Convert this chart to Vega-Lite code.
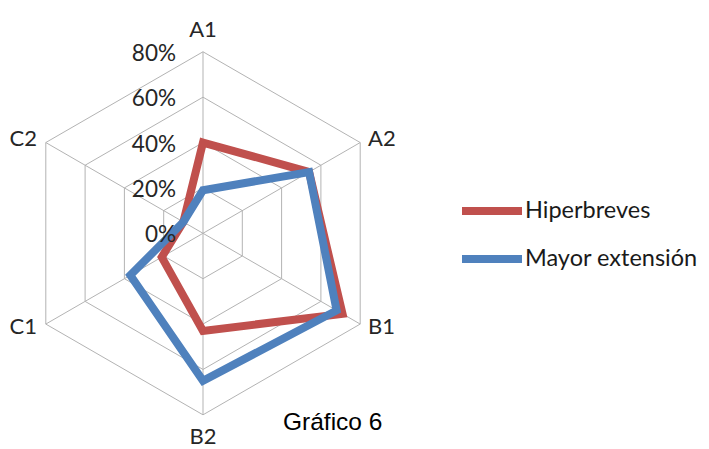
{
  "$schema": "https://vega.github.io/schema/vega-lite/v6.json",
  "width": 709,
  "height": 449,
  "padding": 0,
  "autosize": {"type": "none"},
  "background": "white",
  "config": {"view": {"stroke": null}},
  "title": {
    "text": "Gráfico 6",
    "orient": "bottom",
    "anchor": "start",
    "frame": "group",
    "offset": 0,
    "dx": 283,
    "dy": -19,
    "baseline": "alphabetic",
    "font": "Liberation Sans",
    "fontSize": 24.5,
    "fontWeight": "normal",
    "color": "#000000"
  },
  "datasets": {
    "series": [
      {"axis": "A1", "serie": "Hiperbreves", "value": 0.40},
      {"axis": "A2", "serie": "Hiperbreves", "value": 0.54},
      {"axis": "B1", "serie": "Hiperbreves", "value": 0.71},
      {"axis": "B2", "serie": "Hiperbreves", "value": 0.43},
      {"axis": "C1", "serie": "Hiperbreves", "value": 0.21},
      {"axis": "C2", "serie": "Hiperbreves", "value": 0.10},
      {"axis": "A1", "serie": "Mayor extensión", "value": 0.19},
      {"axis": "A2", "serie": "Mayor extensión", "value": 0.54},
      {"axis": "B1", "serie": "Mayor extensión", "value": 0.68},
      {"axis": "B2", "serie": "Mayor extensión", "value": 0.65},
      {"axis": "C1", "serie": "Mayor extensión", "value": 0.37},
      {"axis": "C2", "serie": "Mayor extensión", "value": 0.10}
    ],
    "grid": [
      {"axis": "A1", "value": 0.2}, {"axis": "A2", "value": 0.2}, {"axis": "B1", "value": 0.2},
      {"axis": "B2", "value": 0.2}, {"axis": "C1", "value": 0.2}, {"axis": "C2", "value": 0.2},
      {"axis": "A1", "value": 0.4}, {"axis": "A2", "value": 0.4}, {"axis": "B1", "value": 0.4},
      {"axis": "B2", "value": 0.4}, {"axis": "C1", "value": 0.4}, {"axis": "C2", "value": 0.4},
      {"axis": "A1", "value": 0.6}, {"axis": "A2", "value": 0.6}, {"axis": "B1", "value": 0.6},
      {"axis": "B2", "value": 0.6}, {"axis": "C1", "value": 0.6}, {"axis": "C2", "value": 0.6},
      {"axis": "A1", "value": 0.8}, {"axis": "A2", "value": 0.8}, {"axis": "B1", "value": 0.8},
      {"axis": "B2", "value": 0.8}, {"axis": "C1", "value": 0.8}, {"axis": "C2", "value": 0.8}
    ],
    "axes": [
      {"axis": "A1", "value": 0.8}, {"axis": "A2", "value": 0.8}, {"axis": "B1", "value": 0.8},
      {"axis": "B2", "value": 0.8}, {"axis": "C1", "value": 0.8}, {"axis": "C2", "value": 0.8}
    ],
    "ticks": [
      {"axis": "A1", "value": 0.0, "label": "0%"},
      {"axis": "A1", "value": 0.2, "label": "20%"},
      {"axis": "A1", "value": 0.4, "label": "40%"},
      {"axis": "A1", "value": 0.6, "label": "60%"},
      {"axis": "A1", "value": 0.8, "label": "80%"}
    ]
  },
  "layer": [
    {
      "data": {"name": "grid"},
      "transform": [
        {"calculate": "indexof(['A1','A2','B1','B2','C1','C2'], datum.axis) * PI / 3", "as": "ang"},
        {"calculate": "datum.value * sin(datum.ang)", "as": "px"},
        {"calculate": "datum.value * cos(datum.ang)", "as": "py"}
      ],
      "mark": {"type": "line", "interpolate": "linear-closed", "stroke": "#B3B3B3", "strokeWidth": 1},
      "encoding": {
        "x": {"field": "px", "type": "quantitative", "scale": {"domain": [-0.8947, 2.2301], "nice": false, "zero": false}, "axis": null},
        "y": {"field": "py", "type": "quantitative", "scale": {"domain": [-0.9506, 1.0282], "nice": false, "zero": false}, "axis": null},
        "detail": {"field": "value", "type": "nominal"},
        "order": {"field": "ang", "type": "quantitative"}
      }
    },
    {
      "data": {"name": "axes"},
      "transform": [
        {"calculate": "indexof(['A1','A2','B1','B2','C1','C2'], datum.axis) * PI / 3", "as": "ang"},
        {"calculate": "datum.value * sin(datum.ang)", "as": "px"},
        {"calculate": "datum.value * cos(datum.ang)", "as": "py"},
        {"calculate": "0", "as": "z"}
      ],
      "mark": {"type": "rule", "stroke": "#B3B3B3", "strokeWidth": 1},
      "encoding": {
        "x": {"field": "z", "type": "quantitative"},
        "y": {"field": "z", "type": "quantitative"},
        "x2": {"field": "px"},
        "y2": {"field": "py"}
      }
    },
    {
      "data": {"name": "series"},
      "transform": [
        {"calculate": "indexof(['A1','A2','B1','B2','C1','C2'], datum.axis) * PI / 3", "as": "ang"},
        {"calculate": "datum.value * sin(datum.ang)", "as": "px"},
        {"calculate": "datum.value * cos(datum.ang)", "as": "py"}
      ],
      "mark": {"type": "line", "interpolate": "linear-closed", "strokeWidth": 8, "strokeJoin": "miter"},
      "encoding": {
        "x": {"field": "px", "type": "quantitative"},
        "y": {"field": "py", "type": "quantitative"},
        "order": {"field": "ang", "type": "quantitative"},
        "color": {
          "field": "serie",
          "type": "nominal",
          "scale": {"domain": ["Hiperbreves", "Mayor extensión"], "range": ["#C0504D", "#4F81BD"]},
          "legend": {
            "orient": "none",
            "legendX": 458,
            "legendY": 192,
            "title": null,
            "symbolType": "M-1,0H3",
            "symbolSize": 900,
            "symbolStrokeWidth": 8,
            "labelFont": "Lato",
            "labelFontSize": 23.5,
            "labelColor": "#1a1a1a",
            "labelLimit": 0,
            "labelOffset": 29,
            "rowPadding": 13
          }
        }
      }
    },
    {
      "data": {"name": "ticks"},
      "transform": [
        {"calculate": "0", "as": "px"},
        {"calculate": "datum.value", "as": "py"}
      ],
      "mark": {"type": "text", "align": "right", "baseline": "middle", "dx": -27, "dy": 2, "font": "Lato", "fontSize": 22.5, "color": "#262626"},
      "encoding": {
        "x": {"field": "px", "type": "quantitative"},
        "y": {"field": "py", "type": "quantitative"},
        "text": {"field": "label"}
      }
    },
    {
      "data": {"name": "axes"},
      "transform": [
        {"filter": "datum.axis == 'A1' || datum.axis == 'B2'"},
        {"calculate": "indexof(['A1','A2','B1','B2','C1','C2'], datum.axis) * PI / 3", "as": "ang"},
        {"calculate": "0.897 * sin(datum.ang)", "as": "px"},
        {"calculate": "0.897 * cos(datum.ang)", "as": "py"}
      ],
      "mark": {"type": "text", "align": "center", "baseline": "middle", "font": "Lato", "fontSize": 22, "color": "#262626"},
      "encoding": {
        "x": {"field": "px", "type": "quantitative"},
        "y": {"field": "py", "type": "quantitative"},
        "text": {"field": "axis"}
      }
    },
    {
      "data": {"name": "axes"},
      "transform": [
        {"filter": "datum.axis == 'A2' || datum.axis == 'B1'"},
        {"calculate": "indexof(['A1','A2','B1','B2','C1','C2'], datum.axis) * PI / 3", "as": "ang"},
        {"calculate": "0.83 * sin(datum.ang)", "as": "px"},
        {"calculate": "0.83 * cos(datum.ang)", "as": "py"}
      ],
      "mark": {"type": "text", "align": "left", "baseline": "middle", "dx": 2, "font": "Lato", "fontSize": 22, "color": "#262626"},
      "encoding": {
        "x": {"field": "px", "type": "quantitative"},
        "y": {"field": "py", "type": "quantitative"},
        "text": {"field": "axis"}
      }
    },
    {
      "data": {"name": "axes"},
      "transform": [
        {"filter": "datum.axis == 'C1' || datum.axis == 'C2'"},
        {"calculate": "indexof(['A1','A2','B1','B2','C1','C2'], datum.axis) * PI / 3", "as": "ang"},
        {"calculate": "0.83 * sin(datum.ang)", "as": "px"},
        {"calculate": "0.83 * cos(datum.ang)", "as": "py"}
      ],
      "mark": {"type": "text", "align": "right", "baseline": "middle", "dx": -3, "font": "Lato", "fontSize": 22, "color": "#262626"},
      "encoding": {
        "x": {"field": "px", "type": "quantitative"},
        "y": {"field": "py", "type": "quantitative"},
        "text": {"field": "axis"}
      }
    }
  ]
}
